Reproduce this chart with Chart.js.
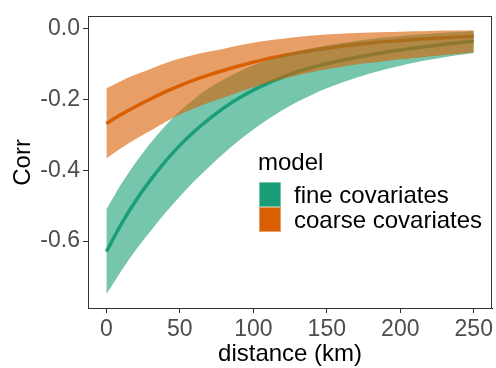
<!DOCTYPE html>
<html><head><meta charset="utf-8">
<script src="https://cdn.jsdelivr.net/npm/chart.js@4.4.1/dist/chart.umd.min.js"></script>
<style>html,body{margin:0;padding:0;background:#fff;}canvas{display:block}</style>
</head><body>
<canvas id="c" width="496" height="368"></canvas>
<script>
const distance = [0,10,20,30,40,50,60,70,80,90,100,110,120,130,140,150,160,170,180,190,200,210,220,230,240,250];
const fineMean  = [-0.630,-0.553,-0.486,-0.428,-0.376,-0.330,-0.290,-0.255,-0.224,-0.197,-0.174,-0.154,-0.137,-0.122,-0.110,-0.099,-0.090,-0.082,-0.074,-0.067,-0.061,-0.055,-0.050,-0.045,-0.040,-0.036];
const fineUpper = [-0.511,-0.440,-0.378,-0.323,-0.275,-0.233,-0.198,-0.168,-0.143,-0.122,-0.104,-0.089,-0.076,-0.065,-0.056,-0.048,-0.041,-0.035,-0.030,-0.025,-0.021,-0.018,-0.015,-0.012,-0.010,-0.008];
const fineLower = [-0.750,-0.685,-0.625,-0.572,-0.521,-0.474,-0.430,-0.390,-0.352,-0.317,-0.285,-0.256,-0.230,-0.207,-0.187,-0.169,-0.153,-0.139,-0.126,-0.115,-0.105,-0.096,-0.088,-0.081,-0.075,-0.069];
const coarseMean  = [-0.268,-0.243,-0.220,-0.199,-0.179,-0.161,-0.145,-0.131,-0.118,-0.106,-0.095,-0.085,-0.077,-0.069,-0.062,-0.056,-0.050,-0.045,-0.041,-0.037,-0.034,-0.031,-0.028,-0.026,-0.024,-0.022];
const coarseUpper = [-0.169,-0.148,-0.130,-0.114,-0.098,-0.085,-0.074,-0.065,-0.057,-0.048,-0.040,-0.034,-0.029,-0.024,-0.020,-0.017,-0.015,-0.013,-0.011,-0.010,-0.009,-0.008,-0.007,-0.006,-0.006,-0.005];
const coarseLower = [-0.367,-0.338,-0.312,-0.289,-0.265,-0.243,-0.225,-0.209,-0.195,-0.180,-0.166,-0.153,-0.142,-0.132,-0.123,-0.115,-0.108,-0.102,-0.097,-0.092,-0.087,-0.083,-0.079,-0.075,-0.071,-0.068];
const xTicks = [0,50,100,150,200,250];
const yTicks = [-0.6,-0.4,-0.2,0.0];
const seriesNames = ['fine covariates','coarse covariates'];
const legendTitle = 'model';
const xTitle = 'distance (km)';
const yTitle = 'Corr';

const COL = ['#1B9E77','#D95F02'];
const FILL = ['rgba(27,158,119,0.6)','rgba(217,95,2,0.6)'];
const FONT = '"Liberation Sans", Arial, sans-serif';
const pts = arr => distance.map((d,i)=>({x:d,y:arr[i]}));

const base = {pointRadius:0, cubicInterpolationMode:'monotone'};
const datasets = [
  Object.assign({label:seriesNames[0], data:pts(fineMean), borderColor:COL[0], borderWidth:3.5, fill:false, order:6}, base),
  Object.assign({label:seriesNames[1], data:pts(coarseMean), borderColor:COL[1], borderWidth:3.5, fill:false, order:5}, base),
  Object.assign({label:'fl', data:pts(fineLower), borderWidth:0, borderColor:'rgba(0,0,0,0)', fill:false, order:4}, base),
  Object.assign({label:'fu', data:pts(fineUpper), borderWidth:0, borderColor:'rgba(0,0,0,0)', backgroundColor:FILL[0], fill:2, order:3}, base),
  Object.assign({label:'cl', data:pts(coarseLower), borderWidth:0, borderColor:'rgba(0,0,0,0)', fill:false, order:2}, base),
  Object.assign({label:'cu', data:pts(coarseUpper), borderWidth:0, borderColor:'rgba(0,0,0,0)', backgroundColor:FILL[1], fill:4, order:1}, base)
];

const deco = {
  id:'deco',
  afterDraw(chart){
    const ctx = chart.ctx, a = chart.chartArea;
    ctx.save();
    ctx.strokeStyle = '#333'; ctx.lineWidth = 1;
    ctx.strokeRect(Math.round(a.left)+0.5, Math.round(a.top)-0.5, Math.round(a.right-a.left)-1, Math.round(a.bottom-a.top)+1);
    ctx.fillStyle = '#000';
    ctx.font = '24px ' + FONT;
    ctx.textAlign = 'center'; ctx.textBaseline = 'alphabetic';
    ctx.fillText(xTitle, (a.left+a.right)/2, 361);
    ctx.save();
    ctx.translate(30, (a.top+a.bottom)/2);
    ctx.rotate(-Math.PI/2);
    ctx.fillText(yTitle, 0, 0);
    ctx.restore();
    ctx.textAlign = 'left';
    ctx.fillText(legendTitle, 258, 170);
    const keyX = 259, keyY = 182, kw = 22, kh = 25;
    for (let i=0;i<2;i++){
      ctx.fillStyle = FILL[i];
      ctx.fillRect(keyX, keyY+i*kh, kw, kh);
      ctx.fillStyle = COL[i];
      ctx.fillRect(keyX+1, keyY+i*kh+1, kw-2, kh-2);
      ctx.fillStyle = '#000';
      ctx.fillText(seriesNames[i], 294, keyY + i*kh + 21);
    }
    ctx.restore();
  }
};

new Chart(document.getElementById('c'), {
  type:'line',
  data:{datasets},
  options:{
    responsive:false, animation:false, devicePixelRatio:1,
    layout:{padding:{top:8,right:1,left:0,bottom:0}},
    plugins:{legend:{display:false}, tooltip:{enabled:false}},
    scales:{
      x:{type:'linear', min:-12.5, max:262.5,
        afterBuildTicks:s=>{s.ticks = xTicks.map(v=>({value:v}));},
        afterFit:s=>{s.height = 60;},
        ticks:{color:'#4D4D4D', font:{size:23, family:FONT}, padding:3, maxRotation:0, autoSkip:false, callback:v=>String(v)},
        grid:{drawOnChartArea:false, drawTicks:true, tickLength:5, color:'#333'},
        border:{color:'#000', width:1}
      },
      y:{type:'linear', min:-0.789, max:0.033,
        afterBuildTicks:s=>{s.ticks = yTicks.map(v=>({value:v}));},
        afterFit:s=>{s.width = 88;},
        ticks:{color:'#4D4D4D', font:{size:23, family:FONT}, padding:3, autoSkip:false, callback:v=>(Math.abs(v)<1e-9?0:v).toFixed(1)},
        grid:{drawOnChartArea:false, drawTicks:true, tickLength:5, color:'#333'},
        border:{color:'#000', width:1}
      }
    }
  },
  plugins:[deco]
});
</script>
</body></html>
